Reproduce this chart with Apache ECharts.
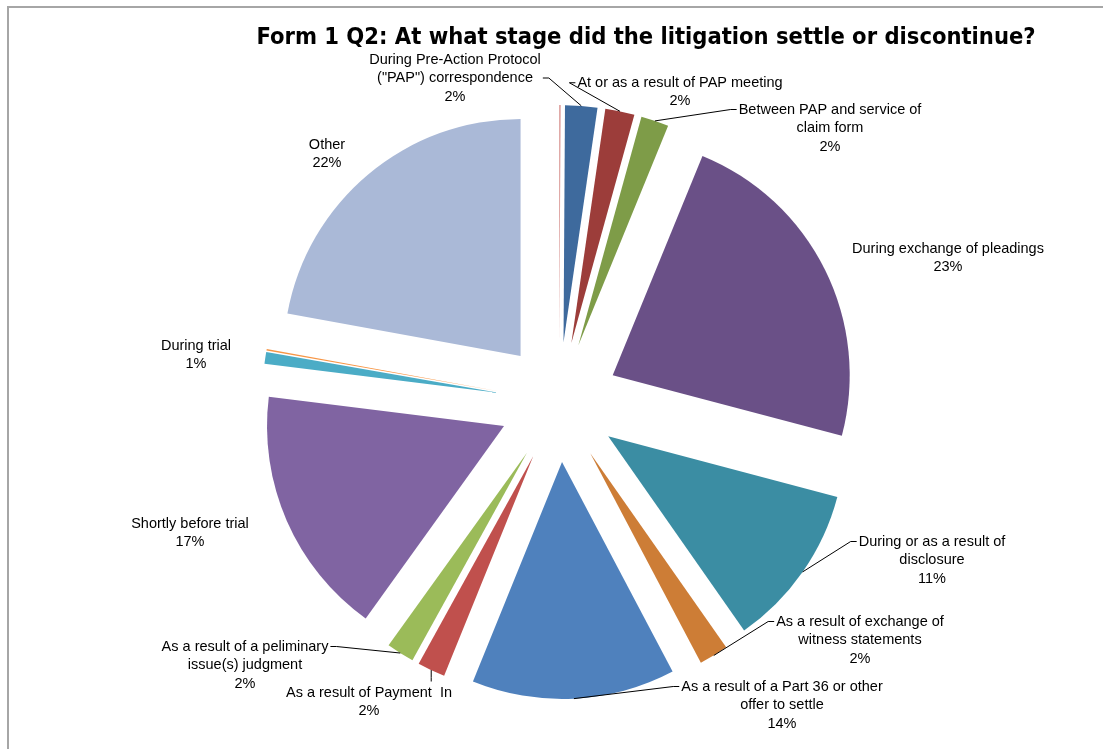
<!DOCTYPE html>
<html lang="en">
<head>
    <meta charset="utf-8">
    <title>Form 1 Q2</title>
    <script src="https://cdn.jsdelivr.net/npm/echarts@6/dist/echarts.min.js"></script>
    <style>
        body { margin: 0; background: #fff; }
        #frame {
            position: absolute; left: 7px; top: 6px; width: 1094px; height: 743px;
            border-top: 2px solid #a6a6a6; border-left: 2px solid #a6a6a6;
        }
        #chart { position: absolute; left: 0; top: 0; width: 1105px; height: 749px; }
    </style>
</head>
<body>
    <div id="frame"></div>
    <div id="chart"></div>

    <script>
        // clockwise from 12 o'clock, percent of responses
        var stages = [
            'After trial',
            'During Pre-Action Protocol\n("PAP") correspondence',
            'At or as a result of PAP meeting',
            'Between PAP and service of\nclaim form',
            'During exchange of pleadings',
            'During or as a result of\ndisclosure',
            'As a result of exchange of\nwitness statements',
            'As a result of a Part 36 or other\noffer to settle',
            'As a result of Payment  In',
            'As a result of a peliminary\nissue(s) judgment',
            'Shortly before trial',
            'During trial',
            'On appeal',
            'Other'
        ];
        var shares = [0.1, 2.2, 2.0, 1.9, 23.0, 11.2, 2.0, 13.9, 1.9, 1.9, 17.1, 0.8, 0.1, 22.2];
        var colours = ['#d99694', '#3e6a9d', '#9c3d3a', '#7e9c48', '#6a5087', '#3b8da3', '#cd7d36',
                       '#4f81bd', '#c0504d', '#9bbb59', '#8064a2', '#4bacc6', '#f79646', '#aab9d7'];

        // label placement (text centre), which side the leader line meets and at which text row
        var labelSpots = [null, [455, 78], [680, 92], [830, 128], [948, 258], [932, 560], [860, 640],
                          [782, 705], [369, 702], [245, 665], [190, 533], [196, 355], null, [327, 154]];
        var leaderSide = [null, 'R', 'L', 'L', null, 'L', 'L', 'L', 'T', 'R', null, null, null, null];
        var leaderRow = [0, 1, 0, 0, 0, 0, 0, 0, 0, 0, 0, 0, 0, 0];

        var pieCenter = [559, 402];
        var pieRadius = 237;
        var explode = 60;
        var rowHeight = 18.5;

        var total = 0;
        for (var k = 0; k < shares.length; k++) total += shares[k];

        // mid angle of every slice (radians, clockwise from 12 o'clock)
        var midAngle = [];
        var run = 0;
        for (var m = 0; m < shares.length; m++) {
            midAngle.push((run + shares[m] / 2) / total * Math.PI * 2);
            run += shares[m];
        }

        function clamp(v, a, b) { return Math.max(a, Math.min(b, v)); }

        var sliceData = [];
        var labelData = [];
        for (var i = 0; i < stages.length; i++) {
            sliceData.push({
                name: stages[i],
                value: shares[i],
                selected: true,
                itemStyle: { color: colours[i] }
            });
            labelData.push({
                name: stages[i],
                value: shares[i],
                label: { show: labelSpots[i] !== null },
                labelLine: { show: leaderSide[i] !== null }
            });
        }

        var myChart = echarts.init(document.getElementById('chart'));
        myChart.setOption({
            animation: false,
            title: {
                text: 'Form 1 Q2: At what stage did the litigation settle or discontinue?',
                left: 641,
                textAlign: 'center',
                top: 21,
                textStyle: {
                    fontFamily: 'DejaVu Sans Condensed, sans-serif',
                    fontSize: 23.5,
                    fontWeight: 'bold',
                    color: '#000'
                }
            },
            series: [{
                // the exploded slices
                type: 'pie',
                center: pieCenter,
                radius: pieRadius,
                startAngle: 90,
                clockwise: true,
                selectedMode: 'multiple',
                selectedOffset: explode,
                label: { show: false },
                labelLine: { show: false },
                emphasis: { disabled: true },
                silent: true,
                data: sliceData
            }, {
                // same slices, unfilled, only to carry the data labels
                type: 'pie',
                center: pieCenter,
                radius: pieRadius,
                startAngle: 90,
                clockwise: true,
                silent: true,
                z: 3,
                itemStyle: { color: 'rgba(0,0,0,0)' },
                emphasis: { disabled: true },
                label: {
                    position: 'outside',
                    color: '#000',
                    fontFamily: 'Liberation Sans, Arial, sans-serif',
                    fontSize: 14.5,
                    lineHeight: rowHeight,
                    formatter: function (p) {
                        return p.name + '\n' + Math.round(p.value / total * 100) + '%';
                    }
                },
                labelLine: {
                    length: 10,
                    length2: 10,
                    lineStyle: { color: '#000', width: 1 }
                },
                labelLayout: function (p) {
                    var i = p.dataIndex;
                    var spot = labelSpots[i];
                    if (!spot) return {};
                    var out = { x: spot[0], y: spot[1], align: 'center', verticalAlign: 'middle', hideOverlap: false };
                    var side = leaderSide[i];
                    if (side) {
                        // leader starts on the outer rim of the exploded slice
                        var a = midAngle[i];
                        var px = pieCenter[0] + (explode + pieRadius) * Math.sin(a);
                        var py = pieCenter[1] - (explode + pieRadius) * Math.cos(a);
                        var w = p.labelRect.width, h = p.labelRect.height;
                        var left = spot[0] - w / 2, right = spot[0] + w / 2;
                        var top = spot[1] - h / 2;
                        var ey = top + rowHeight * (leaderRow[i] + 0.5);
                        if (side === 'L') {
                            out.labelLinePoints = [[px, py], [left - 8, ey], [left - 2, ey]];
                        } else if (side === 'R') {
                            out.labelLinePoints = [[px, py], [right + 8, ey], [right + 2, ey]];
                        } else {
                            var ex = clamp(px, left + 4, right - 4);
                            out.labelLinePoints = [[px, py], [ex, top - 6], [ex, top - 2]];
                        }
                    }
                    return out;
                },
                data: labelData
            }]
        });
    </script>
</body>
</html>
